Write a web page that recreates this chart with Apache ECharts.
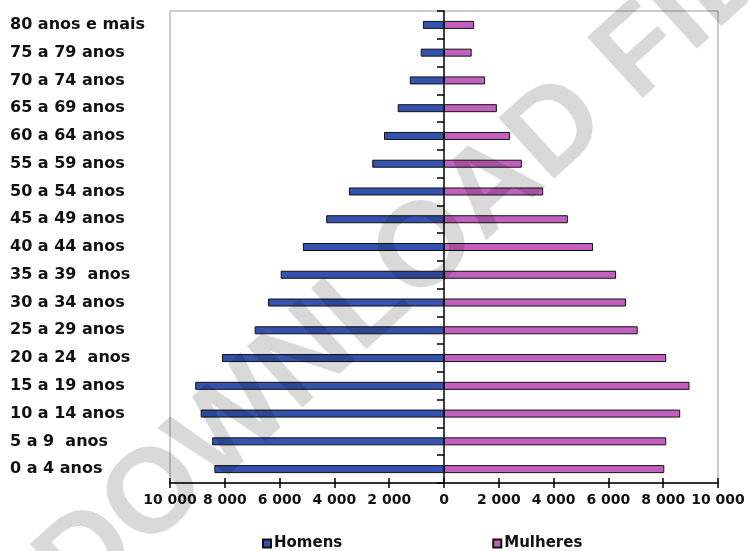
<!DOCTYPE html>
<html>
<head>
<meta charset="utf-8">
<script src="https://cdn.jsdelivr.net/npm/echarts@6/dist/echarts.min.js"></script>
<style>
  html, body { margin: 0; padding: 0; background: #fff; }
  #chart { width: 748px; height: 551px; }
</style>
</head>
<body>
<div id="chart"></div>
<script>
// Age groups, bottom to top
const categories = [
  '0 a 4 anos', '5 a 9  anos', '10 a 14 anos', '15 a 19 anos', '20 a 24  anos',
  '25 a 29 anos', '30 a 34 anos', '35 a 39  anos', '40 a 44 anos', '45 a 49 anos',
  '50 a 54 anos', '55 a 59 anos', '60 a 64 anos', '65 a 69 anos', '70 a 74 anos',
  '75 a 79 anos', '80 anos e mais'
];
const homens = [8380, 8460, 8880, 9080, 8100, 6910, 6420, 5960, 5150, 4300, 3470, 2620, 2190, 1690, 1250, 850, 770];
const mulheres = [8040, 8110, 8620, 8960, 8110, 7070, 6640, 6280, 5440, 4520, 3620, 2840, 2410, 1930, 1500, 1010, 1100];
const xTicks = [-10000, -8000, -6000, -4000, -2000, 0, 2000, 4000, 6000, 8000, 10000];
const seriesNames = ['Homens', 'Mulheres'];

const FONT = 'DejaVu Sans';
const chart = echarts.init(document.getElementById('chart'), null, { renderer: 'canvas' });

function fmt(v) {
  const a = Math.abs(v);
  const s = String(a);
  return s.length > 3 ? s.slice(0, s.length - 3) + ' ' + s.slice(-3) : s;
}

chart.setOption({
  animation: false,
  backgroundColor: '#ffffff',
  grid: {
    left: 170, right: 30, top: 11, bottom: 68,
    show: true, borderColor: '#9a9a9a', borderWidth: 1, backgroundColor: 'transparent'
  },
  legend: {
    data: seriesNames,
    left: 257, top: 531,
    icon: 'rect', itemWidth: 8, itemHeight: 8, itemGap: 150,
    textStyle: { fontFamily: FONT, fontWeight: 'bold', fontSize: 15, color: '#111', padding: [0, 0, 0, -2] }
  },
  xAxis: [{
    type: 'value', min: xTicks[0], max: xTicks[xTicks.length - 1], interval: 2000,
    splitLine: { show: false },
    axisLine: { show: true, onZero: false, lineStyle: { color: '#000', width: 1.5 } },
    axisTick: { show: true, length: 5, lineStyle: { color: '#000', width: 1.5 } },
    axisLabel: { formatter: fmt, margin: 10, fontFamily: FONT, fontWeight: 'bold', fontSize: 14, color: '#111' }
  }, {
    type: 'value', min: xTicks[0], max: xTicks[xTicks.length - 1], interval: 2000, position: 'bottom',
    splitLine: { show: false },
    axisLine: { show: false },
    axisTick: { show: true, inside: true, length: 5, lineStyle: { color: '#000', width: 1.5 } },
    axisLabel: { show: false }
  }],
  yAxis: [{
    type: 'category', data: categories,
    axisLine: { show: true, onZero: true, lineStyle: { color: '#000', width: 1.5 } },
    axisTick: { show: true, length: 7, lineStyle: { color: '#000', width: 1.5 } },
    axisLabel: { show: false },
    splitLine: { show: false }
  }, {
    type: 'category', data: categories, position: 'left',
    axisLine: { show: false, onZero: false },
    axisTick: { show: false },
    axisLabel: { show: true, align: 'left', margin: 160, fontFamily: FONT, fontWeight: 'bold', fontSize: 16, color: '#111' },
    splitLine: { show: false }
  }],
  series: [{
    name: seriesNames[0], type: 'bar', yAxisIndex: 0,
    data: homens.map(v => -v),
    barWidth: 8, barGap: '-100%',
    itemStyle: { color: '#3452ae', borderColor: '#111', borderWidth: 1 }
  }, {
    name: seriesNames[1], type: 'bar', yAxisIndex: 0,
    data: mulheres,
    barWidth: 8, barGap: '-100%',
    itemStyle: { color: '#c35fbe', borderColor: '#111', borderWidth: 1 }
  }],
  graphic: [{
    type: 'text', z: 100, x: 432, y: 245, rotation: Math.PI * 0.235,
    style: {
      text: 'DOWNLOAD FILE', fontFamily: 'Liberation Sans', fontWeight: 'bold', fontSize: 120,
      fill: 'rgba(0,0,0,0.15)', align: 'center', verticalAlign: 'middle'
    }
  }]
});
</script>
</body>
</html>
